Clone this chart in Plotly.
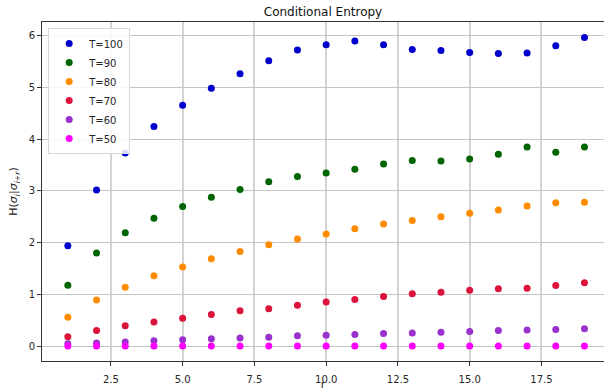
import plotly.graph_objects as go

r = list(range(1, 20))
t100 = [1.94, 3.02, 3.735, 4.25, 4.66, 4.99, 5.27, 5.52, 5.73, 5.83, 5.90, 5.83, 5.74, 5.72, 5.68, 5.66, 5.67, 5.81, 5.97]
t90 = [1.175, 1.80, 2.19, 2.47, 2.70, 2.88, 3.03, 3.18, 3.28, 3.35, 3.42, 3.52, 3.59, 3.58, 3.62, 3.71, 3.85, 3.75, 3.85]
t80 = [0.555, 0.89, 1.135, 1.36, 1.53, 1.69, 1.83, 1.96, 2.07, 2.17, 2.27, 2.36, 2.43, 2.50, 2.57, 2.63, 2.71, 2.77, 2.78]
t70 = [0.18, 0.30, 0.39, 0.465, 0.535, 0.61, 0.68, 0.72, 0.79, 0.85, 0.90, 0.96, 1.01, 1.04, 1.08, 1.11, 1.12, 1.17, 1.225]
t60 = [0.045, 0.06, 0.08, 0.10, 0.12, 0.14, 0.155, 0.17, 0.20, 0.21, 0.225, 0.24, 0.25, 0.265, 0.28, 0.30, 0.31, 0.32, 0.335]
t50 = [0.0] * 19

series = [
    ("T=100", t100, "#0000cd"),
    ("T=90", t90, "#006400"),
    ("T=80", t80, "#ff8c00"),
    ("T=70", t70, "#dc143c"),
    ("T=60", t60, "#9932cc"),
    ("T=50", t50, "#ff00ff"),
]

fig = go.Figure()
for name, vals, col in series:
    fig.add_trace(go.Scatter(x=r, y=vals, mode="markers", name=name,
                             marker=dict(color=col, size=7, line=dict(width=0))))

font = "DejaVu Sans, sans-serif"
fig.update_layout(
    width=604, height=391,
    margin=dict(l=42, r=0, t=22, b=30, autoexpand=False),
    paper_bgcolor="white", plot_bgcolor="white",
    font=dict(family=font, size=10, color="#262626"),
    title=dict(text="Conditional Entropy", x=0.5, xref="paper", y=1 - 12/391, yref="container",
               yanchor="middle", font=dict(size=12, color="#111")),
    showlegend=True,
    legend=dict(x=0.011, y=0.982, xanchor="left", yanchor="top",
                bgcolor="rgba(255,255,255,0.85)", bordercolor="#d8d8d8", borderwidth=1,
                font=dict(size=10, color="#262626"), tracegroupgap=0, itemwidth=30),
    xaxis=dict(range=[0.1, 19.68], tickvals=[2.5, 5, 7.5, 10, 12.5, 15, 17.5],
               ticktext=["2.5", "5.0", "7.5", "10.0", "12.5", "15.0", "17.5"],
               showgrid=True, gridcolor="#d3d3d3", gridwidth=1.6, automargin=True,
               showline=True, linecolor="#333", linewidth=1, mirror=True,
               ticks="outside", ticklen=4, tickcolor="#333", zeroline=False,
               ticklabelstandoff=5,
               title=dict(text="r", standoff=3, font=dict(size=11))),
    yaxis=dict(range=[-0.29, 6.27], tickvals=[0, 1, 2, 3, 4, 5, 6],
               showgrid=True, gridcolor="#c4c4c4", gridwidth=1, automargin=True,
               showline=True, linecolor="#333", linewidth=1, mirror=False,
               ticks="outside", ticklen=4, tickcolor="#333", zeroline=False,
               title=dict(text="H(<i>σ<sub>i</sub></i>|<i>σ<sub>i+r</sub></i>)", standoff=8, font=dict(size=11))),
)

fig.write_html("out.html", config={"displayModeBar": False},
               post_script="document.body.style.margin='0';document.body.style.overflow='hidden';")
